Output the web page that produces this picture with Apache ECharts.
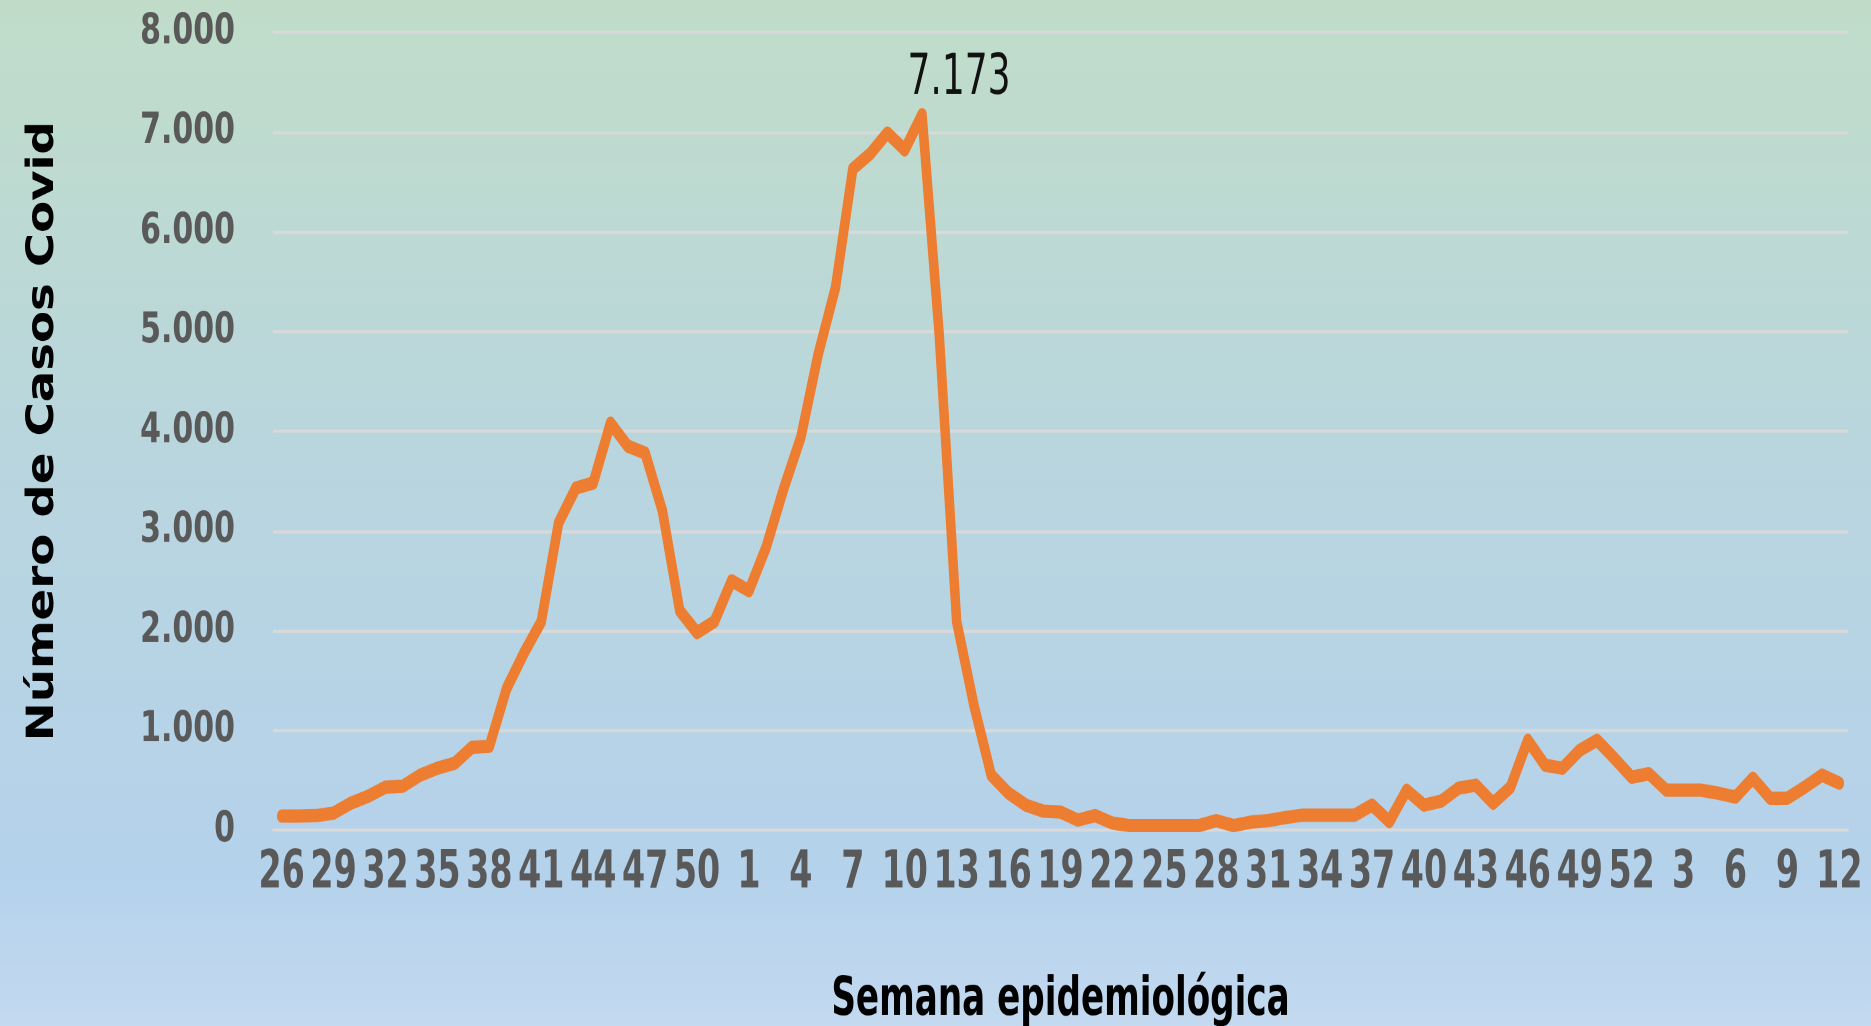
<!DOCTYPE html>
<html>
<head>
<meta charset="utf-8">
<script src="https://cdn.jsdelivr.net/npm/echarts@6/dist/echarts.min.js"></script>
<style>
  html, body { margin: 0; padding: 0; background: #c3daf0; }
  #wrap {
    position: relative;
    width: 1871px;
    height: 1026px;
    overflow: hidden;
  }
  /* el grafico original esta estirado en vertical: se dibuja a 733px de alto y se escala */
  #main {
    position: absolute;
    left: 0;
    top: 0;
    width: 1871px;
    height: 733px;
    transform: scaleY(1.39973);
    transform-origin: 0 0;
  }
</style>
</head>
<body>
<div id="wrap"><div id="main"></div></div>
<script>
// semanas epidemiologicas: 2020 (26-52), 2021 (1-52), 2022 (1-12)
var semanas = [
  '26','27','28','29','30','31','32','33','34','35','36','37','38','39','40','41','42','43','44','45','46','47','48','49','50','51','52',
  '1','2','3','4','5','6','7','8','9','10','11','12','13','14','15','16','17','18','19','20','21','22','23','24','25','26',
  '27','28','29','30','31','32','33','34','35','36','37','38','39','40','41','42','43','44','45','46','47','48','49','50','51','52',
  '1','2','3','4','5','6','7','8','9','10','11','12'
];

var casos = [
  140, 140, 145, 170, 270, 340, 430, 440, 550, 620, 670, 830, 840, 1420, 1775, 2090, 3080, 3430, 3480, 4080,
  3850, 3780, 3200, 2200, 1980, 2090, 2500, 2400, 2840, 3420, 3940, 4770, 5440, 6630, 6780, 6990, 6820, 7173, 4950, 2090,
  1250, 550, 370, 250, 190, 180, 100, 145, 70, 45, 45, 45, 45, 45, 95, 45, 80, 95, 125, 150,
  150, 150, 150, 250, 85, 400, 250, 290, 420, 450, 270, 430, 900, 650, 620, 800, 900, 720, 530, 565,
  400, 400, 400, 370, 330, 520, 320, 320, 430, 550, 470
];

var yTicks = [0, 1000, 2000, 3000, 4000, 5000, 6000, 7000, 8000];

var labelGray = '#595959';
var lineColor = '#ed7d31';
var gridGray = '#d9d9d9';
var fuenteAngosta = "'DejaVu Sans Condensed', 'DejaVu Sans', sans-serif";

var maxVal = Math.max.apply(null, casos);
var serieData = casos.map(function (v) {
  if (v === maxVal) {
    return { value: v, label: { show: true } };
  }
  return v;
});

function miles(v) {
  // 7173 -> 7.173
  return String(v).replace(/\B(?=(\d{3})+(?!\d))/g, '.');
}

var myChart = echarts.init(document.getElementById('main'), null, { devicePixelRatio: 2 });
var option = {
  backgroundColor: new echarts.graphic.LinearGradient(0, 0, 0, 1, [
    { offset: 0, color: '#c1ddc9' },
    { offset: 0.45, color: '#b9d6df' },
    { offset: 0.85, color: '#b5d2ec' },
    { offset: 1, color: '#c3daf0' }
  ]),
  animation: false,
  grid: {
    left: 273,
    right: 23,
    top: 23,
    bottom: 140,
    containLabel: false,
    outerBoundsMode: 'none'
  },
  xAxis: {
    type: 'category',
    data: semanas,
    boundaryGap: true,
    name: 'Semana epidemiológica',
    nameLocation: 'middle',
    nameGap: 103,
    nameTextStyle: {
      color: '#000000',
      fontFamily: fuenteAngosta,
      fontWeight: 'bold',
      fontSize: 38
    },
    axisTick: { show: false },
    axisLine: {
      lineStyle: { color: gridGray, width: 2 }
    },
    axisLabel: {
      interval: 2,
      showMinLabel: true,
      showMaxLabel: true,
      margin: 13,
      color: labelGray,
      fontFamily: fuenteAngosta,
      fontWeight: 'bold',
      fontSize: 37
    }
  },
  yAxis: {
    type: 'value',
    min: yTicks[0],
    max: yTicks[yTicks.length - 1],
    interval: 1000,
    name: 'Número de Casos Covid',
    nameLocation: 'middle',
    nameGap: 211,
    nameTextStyle: {
      color: '#000000',
      fontFamily: fuenteAngosta,
      fontWeight: 'bold',
      fontSize: 37
    },
    axisLine: { show: false },
    axisTick: { show: false },
    axisLabel: {
      margin: 38,
      color: labelGray,
      fontFamily: "'DejaVu Sans', sans-serif",
      fontWeight: 'bold',
      fontSize: 30,
      formatter: function (v) { return miles(v); }
    },
    splitLine: {
      lineStyle: { color: gridGray, width: 2.2 }
    }
  },
  series: [{
    name: 'Casos',
    type: 'line',
    data: serieData,
    symbol: 'circle',
    symbolSize: 1,
    showSymbol: true,
    itemStyle: { color: lineColor },
    smooth: false,
    lineStyle: {
      color: lineColor,
      width: 9.5,
      join: 'round',
      cap: 'round'
    },
    label: {
      show: false,
      position: 'top',
      distance: 5,
      offset: [37, 0],
      color: '#111111',
      fontFamily: fuenteAngosta,
      fontSize: 40,
      formatter: function (p) { return miles(p.value); }
    }
  }]
};
myChart.setOption(option);
</script>
</body>
</html>
